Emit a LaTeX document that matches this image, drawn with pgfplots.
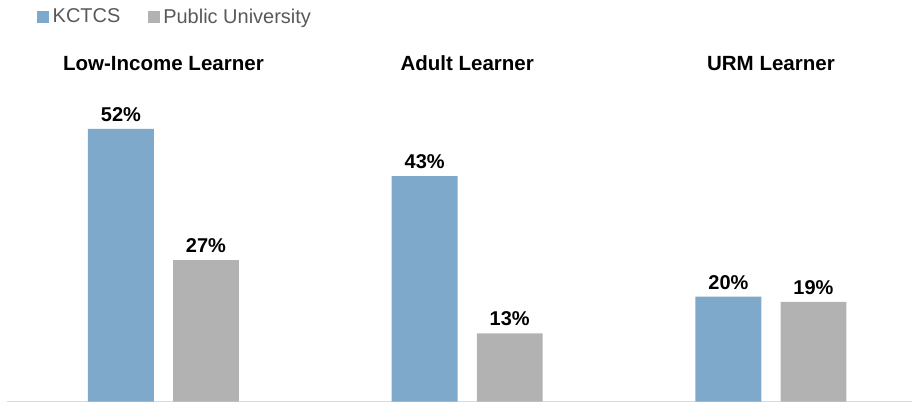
\documentclass[border=0pt]{standalone}
\usepackage{pgfplots}
\pgfplotsset{compat=1.18}
\usepackage{fontspec}
\setmainfont{Liberation Sans}
\definecolor{kctcs}{HTML}{7FA9CB}
\definecolor{pubuni}{HTML}{B2B2B2}
\definecolor{legtext}{HTML}{595959}
\definecolor{baseline}{HTML}{D9D9D9}

\begin{document}
\begin{tikzpicture}
\begin{axis}[
    scale only axis,
    width=679.5pt, height=301.5pt,
    xmin=-0.515, xmax=2.465,
    ymin=0, ymax=76.57,
    clip=false,
    axis x line=bottom,
    axis line style={draw=baseline, line width=1.2pt, -},
    hide y axis,
    xtick=\empty, ytick=\empty,
    /pgf/number format/assume math mode=true,
    ybar, bar width=0.217, bar shift=0pt,
    nodes near coords={\pgfmathprintnumber{\pgfplotspointmeta}\%},
    every node near coord/.append style={font=\bfseries\fontsize{15}{18}\selectfont,
        text=black, inner sep=0pt, yshift=5.25pt, anchor=south},
    legend columns=2,
    legend style={at={(rel axis cs:0.0331,0.958)}, anchor=west, draw=none, fill=none,
        inner sep=0pt, font=\fontsize{15}{17}\selectfont, text=legtext,
        /tikz/every even column/.append style={column sep=18pt},
        nodes={inner sep=2.6pt}},
    legend image code/.code={\fill[#1] (0pt,-4.5pt) rectangle (9pt,4.5pt);},
]
\addplot[fill=kctcs, draw=none] coordinates {(-0.14,52) (0.86,43) (1.86,20)};
\addlegendentry{KCTCS}
\addplot[fill=pubuni, draw=none] coordinates {(0.14,27) (1.14,13) (2.14,19)};
\addlegendentry{Public University}

\node[anchor=base, font=\bfseries\fontsize{15.4}{18}\selectfont] at (axis cs:0,63.2) {Low-Income Learner};
\node[anchor=base, font=\bfseries\fontsize{15.4}{18}\selectfont] at (axis cs:1,63.2) {Adult Learner};
\node[anchor=base, font=\bfseries\fontsize{15.4}{18}\selectfont] at (axis cs:2,63.2) {URM Learner};
\end{axis}
\path (current axis.south west) ++(-5.25pt,-1.5pt) rectangle (current axis.north east);
\end{tikzpicture}
\end{document}
